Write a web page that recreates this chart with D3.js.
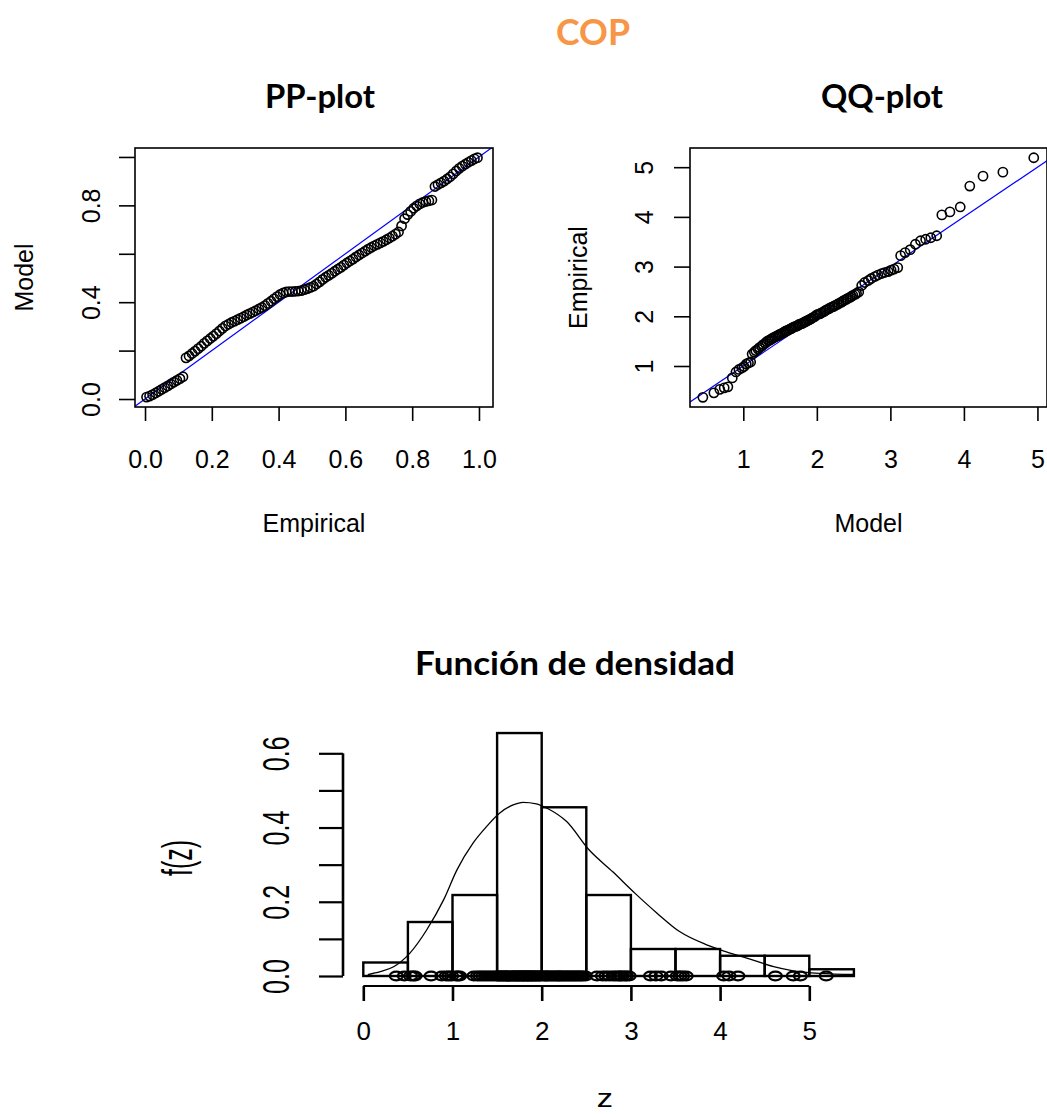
<!DOCTYPE html>
<html>
<head>
<meta charset="utf-8">
<script src="https://cdn.jsdelivr.net/npm/d3@7"></script>
<style>
  body { margin: 0; background: #fff; }
  svg text { font-family: "Liberation Sans", Arial, sans-serif; fill: #000; }
  svg .title { font-family: Lato, "Open Sans", sans-serif; font-weight: 700; }
</style>
</head>
<body>
<svg id="fig" width="1047" height="1114"></svg>
<script>
// Sorted sample of z (n = 110)
const zValues = [
  0.37, 0.46,
  0.53, 0.56, 0.58, 0.76, 0.88, 0.93, 0.96, 0.99,
  1.04, 1.06, 1.08, 1.24, 1.28, 1.31, 1.34, 1.37, 1.40, 1.43, 1.46, 1.49,
  1.51, 1.52, 1.54, 1.55, 1.57, 1.58, 1.60, 1.61, 1.62, 1.64, 1.65, 1.67,
  1.68, 1.70, 1.71, 1.72, 1.74, 1.75, 1.76, 1.78, 1.79, 1.80, 1.81, 1.83,
  1.84, 1.85, 1.86, 1.88, 1.89, 1.90, 1.92, 1.93, 1.95, 1.96, 1.98, 1.99,
  2.02, 2.04, 2.05, 2.07, 2.09, 2.11, 2.13, 2.15, 2.17, 2.19, 2.20, 2.22,
  2.24, 2.26, 2.28, 2.30, 2.32, 2.34, 2.36, 2.38, 2.40, 2.42, 2.44, 2.46, 2.49,
  2.62, 2.68, 2.72, 2.76, 2.80, 2.83, 2.86, 2.88, 2.90, 2.93, 2.95, 2.98,
  3.22, 3.28, 3.34, 3.45,
  3.52, 3.55, 3.58, 3.62,
  4.04, 4.10, 4.20,
  4.62, 4.82, 4.90,
  5.19
];

// Fitted-model CDF evaluated at each sorted observation (PP plot, y)
const ppModel = [
  0.008, 0.012, 0.018, 0.025, 0.032, 0.040, 0.047, 0.054, 0.062, 0.070, 0.077, 0.084, 0.092,
  0.170, 0.178, 0.188, 0.198, 0.208, 0.218, 0.230, 0.240, 0.250, 0.260, 0.270, 0.281, 0.292,
  0.302, 0.309, 0.316, 0.322, 0.328, 0.334, 0.340, 0.347, 0.353, 0.359, 0.365, 0.372, 0.378,
  0.386, 0.395, 0.404, 0.414, 0.423, 0.432, 0.438, 0.442, 0.444, 0.444, 0.445, 0.446, 0.448,
  0.452, 0.456, 0.461, 0.466, 0.475, 0.484, 0.494, 0.503, 0.511, 0.519, 0.528, 0.536, 0.544,
  0.553, 0.562, 0.570, 0.578, 0.587, 0.595, 0.603, 0.611, 0.619, 0.626, 0.633, 0.639, 0.645,
  0.651, 0.658, 0.665, 0.673, 0.681, 0.690,
  0.715, 0.745, 0.762, 0.775, 0.788, 0.798, 0.806, 0.812, 0.816, 0.819, 0.822,
  0.878, 0.886, 0.893, 0.900, 0.909, 0.918, 0.930, 0.942, 0.953, 0.962, 0.970, 0.978,
  0.985, 0.992, 0.997
];

// Fitted-model quantiles matched to each sorted observation (QQ plot, x)
const qqModel = [
  0.45, 0.60, 0.68, 0.74, 0.79, 0.85, 0.90, 0.94, 0.98, 1.01, 1.04, 1.07, 1.10,
  1.12, 1.15, 1.17, 1.20, 1.22, 1.25, 1.27, 1.30, 1.32,
  1.34, 1.36, 1.38, 1.39, 1.41, 1.43, 1.45, 1.47, 1.48, 1.50, 1.52, 1.54,
  1.56, 1.57, 1.59, 1.61, 1.63, 1.65, 1.66, 1.68, 1.70, 1.72, 1.74, 1.75,
  1.77, 1.79, 1.81, 1.83, 1.84, 1.86, 1.88, 1.90, 1.92, 1.93, 1.95, 1.97,
  1.99, 2.01, 2.04, 2.06, 2.09, 2.11, 2.13, 2.16, 2.18, 2.21, 2.23, 2.25,
  2.28, 2.30, 2.33, 2.35, 2.37, 2.40, 2.42, 2.45, 2.47, 2.49, 2.52, 2.54, 2.57,
  2.61, 2.65, 2.70, 2.74, 2.79, 2.83, 2.88, 2.92, 2.97, 3.01, 3.05, 3.10,
  3.14, 3.20, 3.27, 3.34, 3.41, 3.48, 3.55, 3.63,
  3.70, 3.81, 3.95,
  4.08, 4.26, 4.53,
  4.95
];

// Fitted density curve f(z)
const densityX = [0.05, 0.19, 0.34, 0.52, 0.71, 0.90, 1.05, 1.23, 1.38, 1.53, 1.68, 1.79, 1.94,
                  2.06, 2.28, 2.53, 2.80, 3.05, 3.29, 3.55, 3.85, 4.07, 4.37, 4.60, 4.82, 5.12, 5.50];
const densityY = [0.004, 0.012, 0.025, 0.061, 0.124, 0.205, 0.286, 0.358, 0.402, 0.439, 0.461, 0.468, 0.464,
                  0.452, 0.416, 0.340, 0.280, 0.222, 0.170, 0.119, 0.084, 0.065, 0.043, 0.025, 0.014, 0.007, 0.004];

// Histogram break points
const binEdges = [0, 0.5, 1, 1.5, 2, 2.5, 3, 3.5, 4, 4.5, 5, 5.5];

// Axis ticks and the subset that carries labels
const ppTicks = [0, 0.2, 0.4, 0.6, 0.8, 1.0];
const ppYLabelled = [0, 0.4, 0.8];
const qqTicks = [1, 2, 3, 4, 5];
const histXTicks = [0, 1, 2, 3, 4, 5];
const histYTicks = [0, 0.1, 0.2, 0.3, 0.4, 0.5, 0.6];
const histYLabelled = [0, 0.2, 0.4, 0.6];

const titles = { main: "COP", pp: "PP-plot", qq: "QQ-plot", dens: "Función de densidad" };

const svg = d3.select("#fig");
const FS = 25;          // axis text size
const n = zValues.length;

// ---------- titles (Calibri-like proportions) ----------
function title(txt, x, y, size, width, colour) {
  svg.append("text").attr("class", "title").attr("x", x).attr("y", y)
    .attr("text-anchor", "middle").attr("font-size", size)
    .attr("textLength", width).attr("lengthAdjust", "spacingAndGlyphs")
    .style("fill", colour || "#000").text(txt);
}
title(titles.main, 593, 45, 37, 74, "#F79646");
title(titles.pp, 320, 108, 33, 110);
title(titles.qq, 882, 108, 33, 122);
title(titles.dens, 575, 675, 33, 320);

// helper: restyle a d3 axis to R-like look
function styleAxis(g, sw) {
  g.attr("font-size", null).attr("font-family", null);
  g.selectAll("line").attr("stroke", "#000").attr("stroke-width", sw);
  g.selectAll("path.domain").attr("stroke", "#000").attr("stroke-width", sw);
}

// generic scatter panel (box, diagonal, points, axes)
function scatterPanel(cfg) {
  const g = svg.append("g");
  const x = d3.scaleLinear().domain(cfg.xDom).range([cfg.left, cfg.right]);
  const y = d3.scaleLinear().domain(cfg.yDom).range([cfg.bottom, cfg.top]);
  const clipId = cfg.id + "-clip";
  svg.append("clipPath").attr("id", clipId).append("rect")
    .attr("x", cfg.left).attr("y", cfg.top)
    .attr("width", cfg.right - cfg.left).attr("height", cfg.bottom - cfg.top);

  const inner = g.append("g").attr("clip-path", `url(#${clipId})`);
  const lo = Math.min(cfg.xDom[0], cfg.yDom[0]), hi = Math.max(cfg.xDom[1], cfg.yDom[1]);
  inner.append("line")
    .attr("x1", x(lo)).attr("y1", y(lo)).attr("x2", x(hi)).attr("y2", y(hi))
    .attr("stroke", "#0000ff").attr("stroke-width", 1.2);
  g.append("g").selectAll("circle").data(cfg.points).join("circle")
    .attr("cx", d => x(d[0])).attr("cy", d => y(d[1])).attr("r", cfg.r)
    .attr("fill", "none").attr("stroke", "#000").attr("stroke-width", 1.6);

  g.append("rect").attr("x", cfg.left).attr("y", cfg.top)
    .attr("width", cfg.right - cfg.left).attr("height", cfg.bottom - cfg.top)
    .attr("fill", "none").attr("stroke", "#000").attr("stroke-width", 1.6);

  const ax = g.append("g").attr("transform", `translate(0,${cfg.bottom})`)
    .call(d3.axisBottom(x).tickValues(cfg.xTicks).tickSize(14).tickSizeOuter(0).tickFormat(cfg.xFmt));
  styleAxis(ax, 1.6);
  ax.select("path.domain").remove();
  ax.selectAll("text").attr("y", 61).attr("dy", null).attr("font-size", FS);

  const ay = g.append("g").attr("transform", `translate(${cfg.left},0)`)
    .call(d3.axisLeft(y).tickValues(cfg.yTicks).tickSize(16).tickSizeOuter(0).tickFormat(cfg.yFmt));
  styleAxis(ay, 1.6);
  ay.select("path.domain").remove();
  ay.selectAll("text").attr("x", 0).attr("dy", null).attr("text-anchor", "middle")
    .attr("font-size", FS).attr("transform", `translate(${cfg.yLabOff},0) rotate(-90)`);

  g.append("text").attr("x", (cfg.left + cfg.right) / 2).attr("y", 532)
    .attr("text-anchor", "middle").attr("font-size", FS).text(cfg.xTitle);
  g.append("text").attr("text-anchor", "middle").attr("font-size", FS)
    .attr("transform", `translate(${cfg.yTitleX},${(cfg.top + cfg.bottom) / 2}) rotate(-90)`)
    .text(cfg.yTitle);
}

// ---------- PP plot ----------
const ppEmpirical = zValues.map((_, i) => (i + 0.5) / n);
scatterPanel({
  id: "pp", left: 135, right: 493, top: 148, bottom: 407,
  xDom: [-0.03, 1.042], yDom: [-0.033, 1.037],
  points: ppEmpirical.map((p, i) => [p, ppModel[i]]), r: 4.6,
  xTicks: ppTicks, yTicks: ppTicks,
  xFmt: d3.format(".1f"), yFmt: d => ppYLabelled.includes(d) ? d.toFixed(1) : "",
  yLabOff: -35, xTitle: "Empirical", yTitle: "Model", yTitleX: 33
});

// ---------- QQ plot ----------
scatterPanel({
  id: "qq", left: 690, right: 1047, top: 148, bottom: 407,
  xDom: [0.275, 5.13], yDom: [0.175, 5.386],
  points: qqModel.map((q, i) => [q, zValues[i]]), r: 4.6,
  xTicks: qqTicks, yTicks: qqTicks,
  xFmt: d3.format("d"), yFmt: d3.format("d"),
  yLabOff: -37, xTitle: "Model", yTitle: "Empirical", yTitleX: 587
});

// ---------- density histogram ----------
(function () {
  const SX = 1.45;                        // horizontal stretch of rotated text in this panel
  const g = svg.append("g");
  const x = d3.scaleLinear().domain([0, 5.5]).range([363.3, 853.9]);
  const y = d3.scaleLinear().domain([0, 0.6]).range([976, 753.3]);

  const bins = d3.bin().domain([binEdges[0], binEdges[binEdges.length - 1]]).thresholds(binEdges.slice(1, -1))(zValues);
  g.append("g").selectAll("rect").data(bins).join("rect")
    .attr("x", d => x(d.x0)).attr("width", d => x(d.x1) - x(d.x0))
    .attr("y", d => y(d.length / (n * (d.x1 - d.x0))))
    .attr("height", d => y(0) - y(d.length / (n * (d.x1 - d.x0))))
    .attr("fill", "none").attr("stroke", "#000").attr("stroke-width", 2.4);

  g.append("g").selectAll("ellipse").data(zValues).join("ellipse")
    .attr("cx", d => x(d)).attr("cy", y(0)).attr("rx", 6.5).attr("ry", 4.4)
    .attr("fill", "none").attr("stroke", "#000").attr("stroke-width", 2.1);

  const line = d3.line().x(d => x(d[0])).y(d => y(d[1])).curve(d3.curveMonotoneX);
  g.append("path").datum(densityX.map((v, i) => [v, densityY[i]]))
    .attr("d", line).attr("fill", "none").attr("stroke", "#000").attr("stroke-width", 1.3);

  // x axis
  const axY = 986;
  g.append("line").attr("x1", x(histXTicks[0])).attr("x2", x(histXTicks[histXTicks.length - 1]))
    .attr("y1", axY).attr("y2", axY).attr("stroke", "#000").attr("stroke-width", 2.2);
  const ax = g.append("g").attr("transform", `translate(0,${axY})`)
    .call(d3.axisBottom(x).tickValues(histXTicks).tickSize(15).tickSizeOuter(0).tickFormat(d3.format("d")));
  styleAxis(ax, 2.6);
  ax.select("path.domain").remove();
  ax.selectAll("text").attr("y", 54).attr("dy", null).attr("font-size", 26);

  // y axis
  const axX = 343;
  g.append("line").attr("x1", axX).attr("x2", axX)
    .attr("y1", y(histYTicks[0])).attr("y2", y(histYTicks[histYTicks.length - 1]))
    .attr("stroke", "#000").attr("stroke-width", 2.6);
  const ay = g.append("g").attr("transform", `translate(${axX},0)`)
    .call(d3.axisLeft(y).tickValues(histYTicks).tickSize(24).tickSizeOuter(0)
      .tickFormat(d => histYLabelled.some(v => Math.abs(v - d) < 1e-9) ? d.toFixed(1) : ""));
  styleAxis(ay, 2.2);
  ay.select("path.domain").remove();
  ay.selectAll("text").attr("x", 0).attr("dy", null).attr("text-anchor", "middle")
    .attr("font-size", FS).attr("transform", `translate(-54,0) scale(${SX},1) rotate(-90)`);

  g.append("text").attr("text-anchor", "middle").attr("font-size", 26)
    .attr("transform", `translate(605,1107) scale(1.25,1)`).text("z");
  g.append("text").attr("text-anchor", "middle").attr("font-size", FS)
    .attr("transform", `translate(192,858) scale(1.7,1) rotate(-90)`).text("f(z)");
})();
</script>
</body>
</html>
